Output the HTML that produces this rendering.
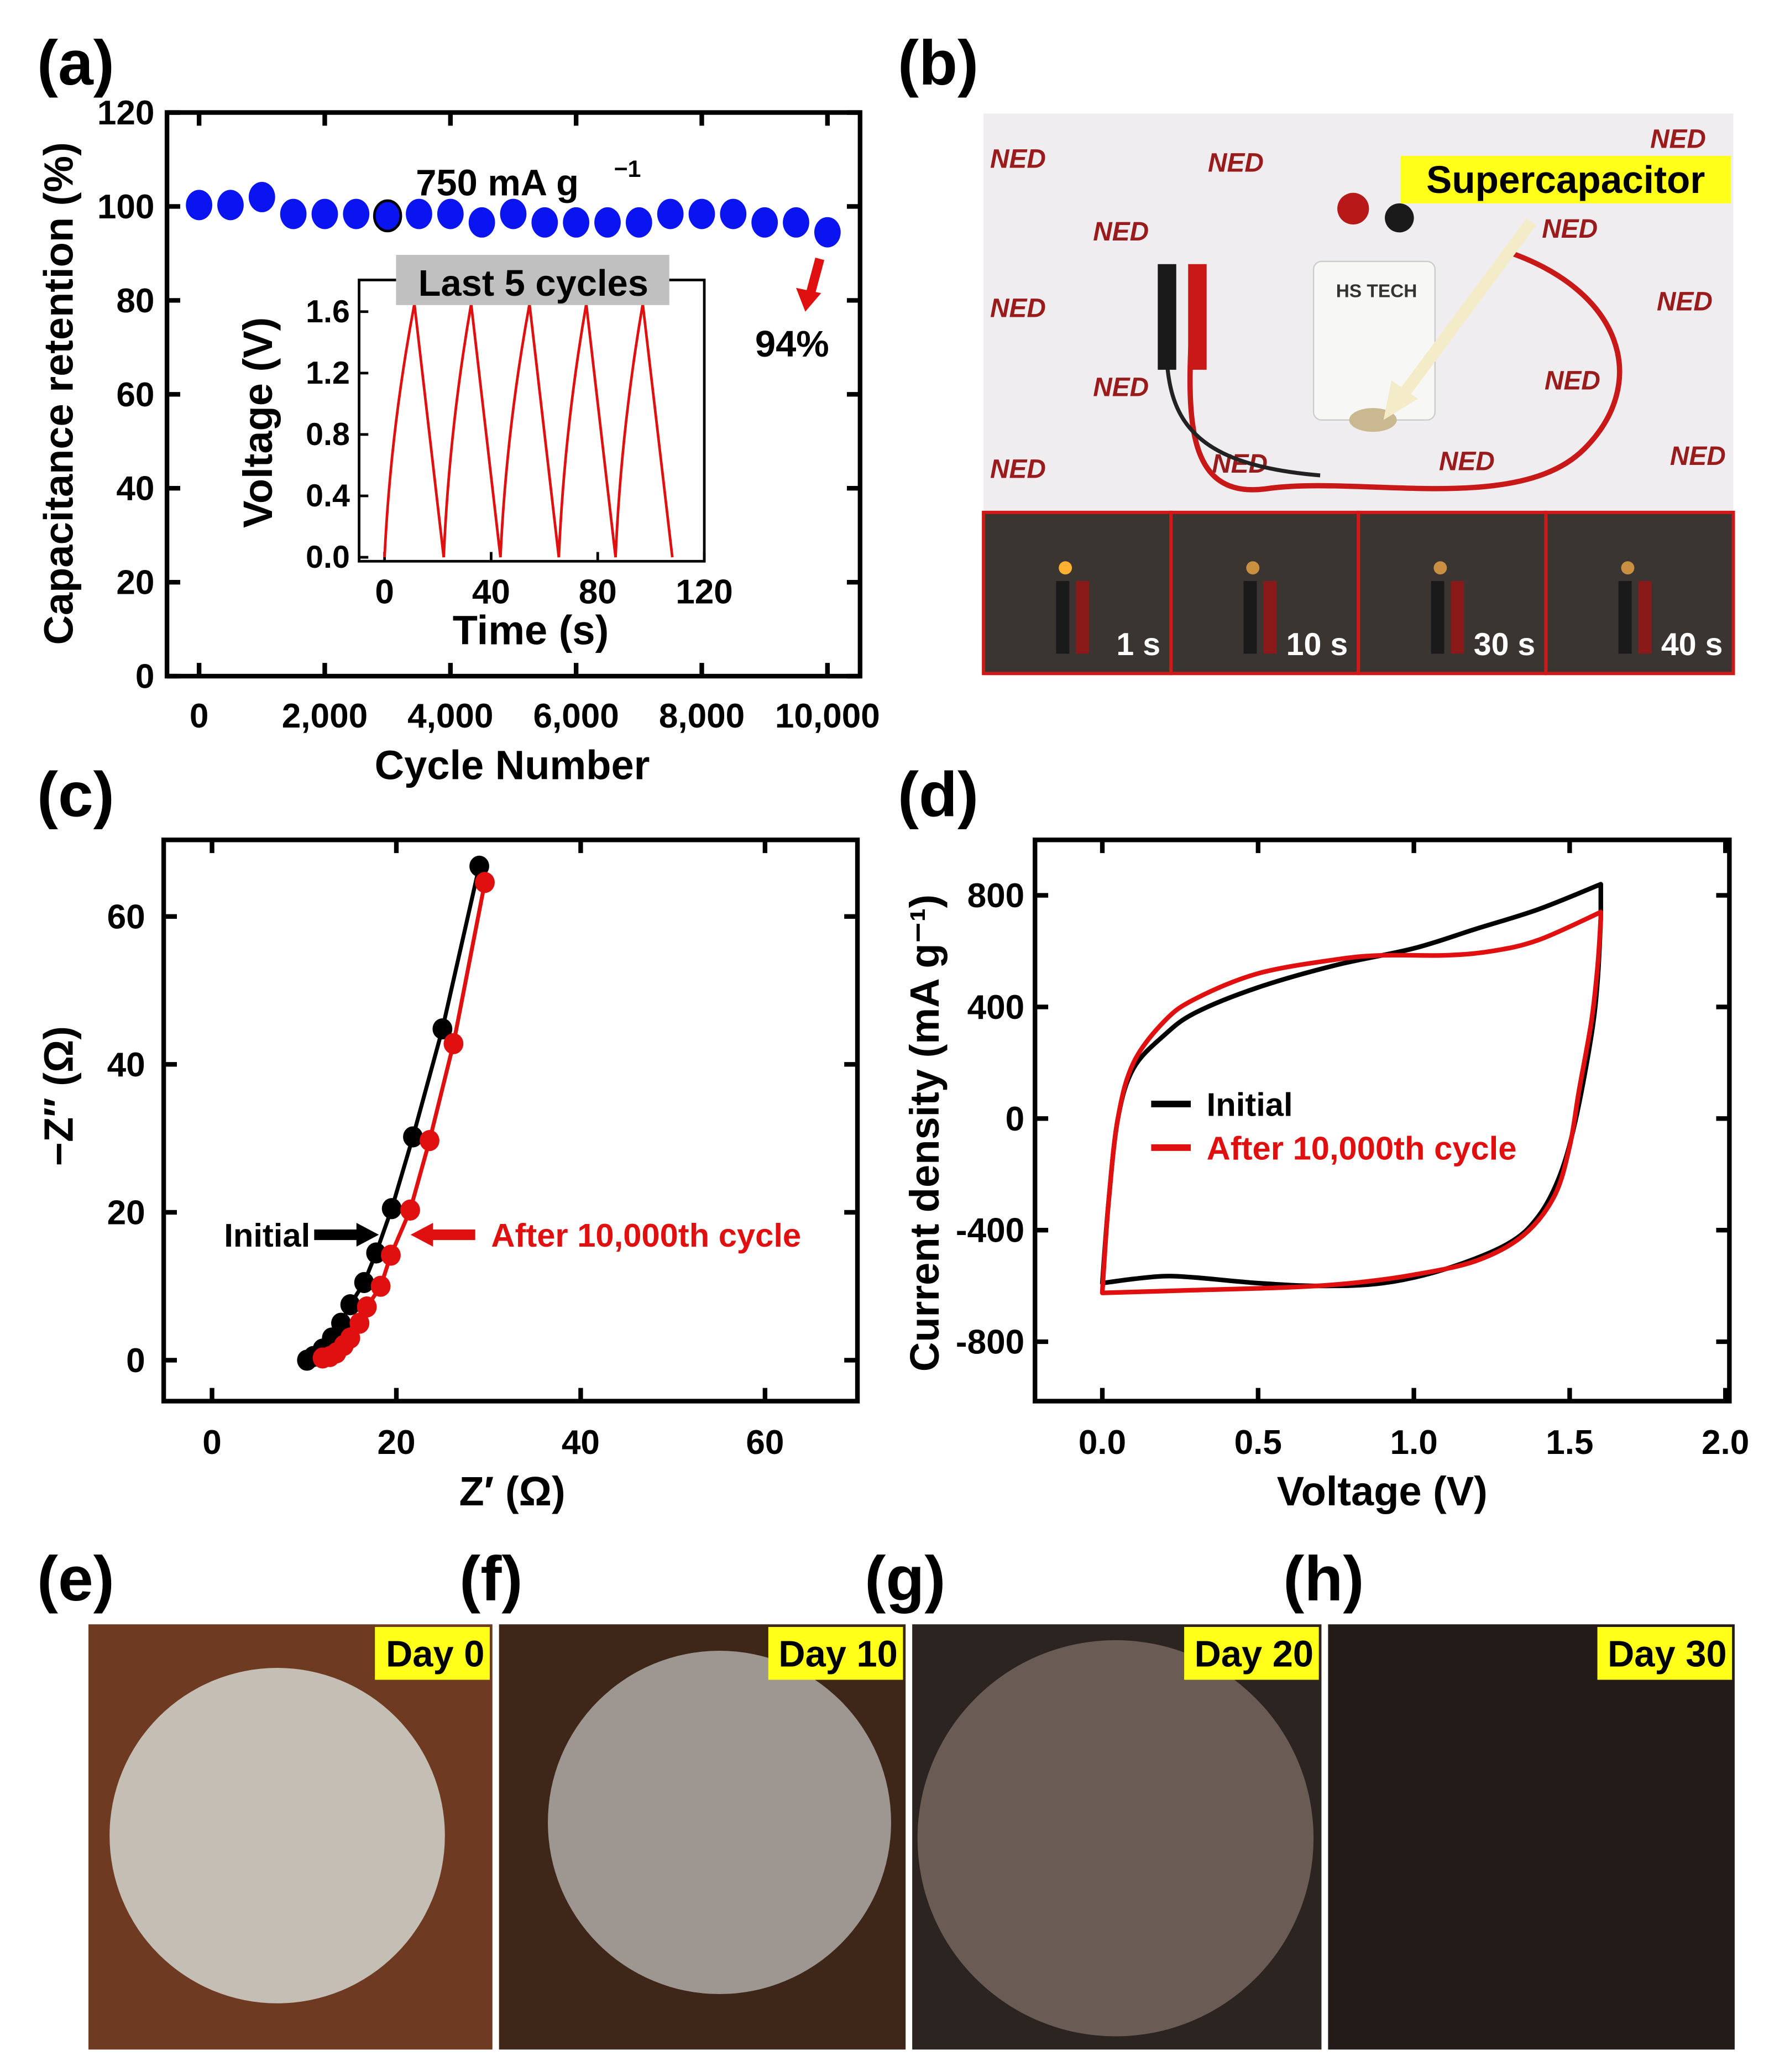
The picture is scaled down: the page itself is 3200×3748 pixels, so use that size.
<!DOCTYPE html>
<html><head><meta charset="utf-8"><style>
html,body{margin:0;padding:0;background:#fff}
svg{display:block}
text{font-family:"Liberation Sans",sans-serif;font-weight:bold}
</style></head><body>
<svg id="fig" width="3200" height="3748" viewBox="0 0 1340 1569" preserveAspectRatio="none" xmlns="http://www.w3.org/2000/svg">
<g id="gA"></g>
<g id="gB">
  <rect x="745" y="86" width="568" height="302" fill="#efedf0"/>
  <text x="750" y="127" font-size="20" fill="#9a1b1b" font-style="italic">NED</text>
  <text x="915" y="130" font-size="20" fill="#9a1b1b" font-style="italic">NED</text>
  <text x="828" y="182" font-size="20" fill="#9a1b1b" font-style="italic">NED</text>
  <text x="750" y="240" font-size="20" fill="#9a1b1b" font-style="italic">NED</text>
  <text x="828" y="300" font-size="20" fill="#9a1b1b" font-style="italic">NED</text>
  <text x="750" y="362" font-size="20" fill="#9a1b1b" font-style="italic">NED</text>
  <text x="918" y="358" font-size="20" fill="#9a1b1b" font-style="italic">NED</text>
  <text x="1090" y="356" font-size="20" fill="#9a1b1b" font-style="italic">NED</text>
  <text x="1168" y="180" font-size="20" fill="#9a1b1b" font-style="italic">NED</text>
  <text x="1255" y="235" font-size="20" fill="#9a1b1b" font-style="italic">NED</text>
  <text x="1170" y="295" font-size="20" fill="#9a1b1b" font-style="italic">NED</text>
  <text x="1265" y="352" font-size="20" fill="#9a1b1b" font-style="italic">NED</text>
  <text x="1250" y="112" font-size="20" fill="#9a1b1b" font-style="italic">NED</text>
  <path d="M905 210 C 900 300, 890 380, 960 370 S 1150 390, 1200 340 S 1230 220, 1140 190" fill="none" stroke="#c81818" stroke-width="4"/>
  <path d="M885 220 C 880 300, 880 350, 1000 360" fill="none" stroke="#222" stroke-width="3"/>
  <rect x="877" y="200" width="14" height="80" fill="#1a1a1a"/>
  <rect x="900" y="200" width="14" height="80" fill="#c81818"/>
  <rect x="995" y="198" width="92" height="120" rx="6" fill="#f7f7f5" stroke="#ccc"/>
  <text x="1012" y="225" font-size="14" fill="#333">HS TECH</text>
  <ellipse cx="1040" cy="318" rx="18" ry="9" fill="#c9b890"/>
  <circle cx="1025" cy="158" r="12" fill="#b81818"/>
  <circle cx="1060" cy="165" r="11" fill="#1a1a1a"/>
  <path d="M1160 168 L1062 300" stroke="#f4ecc8" stroke-width="9"/>
  <polygon points="1048,318 1054,288 1074,302" fill="#f4ecc8"/>
  <rect x="1061" y="118" width="250" height="36" fill="#ffff1a"/>
  <text x="1186" y="146" font-size="29" text-anchor="middle" fill="#000">Supercapacitor</text>
</g>
<g id="gC"></g>
<g id="gD"></g>
<g id="gE"></g>
</svg>
<script>
const NS="http://www.w3.org/2000/svg";
function mk(p,tag,a,txt){const e=document.createElementNS(NS,tag);for(const k in a)e.setAttribute(k,a[k]);if(txt!==undefined)e.textContent=txt;p.appendChild(e);return e;}
const gA=document.getElementById('gA'),gB=document.getElementById('gB'),gC=document.getElementById('gC'),gD=document.getElementById('gD'),gE=document.getElementById('gE');

// ---------- Panel (a) data ----------
const aCycles=[0,500,1000,1500,2000,2500,3000,3500,4000,4500,5000,5500,6000,6500,7000,7500,8000,8500,9000,9500,10000];
const aRetention=[100.3,100.3,102,98.4,98.4,98.4,98,98.4,98.4,96.6,98.4,96.6,96.6,96.6,96.6,98.4,98.4,98.4,96.6,96.6,94.5];
const aXTicks=[0,2000,4000,6000,8000,10000];
const aXTickLabels=["0","2,000","4,000","6,000","8,000","10,000"];
const aYTicks=[0,20,40,60,80,100,120];
const insetT=[0,11.2,22.2,32.5,43.5,54.4,65.4,75.7,86.7,96.9,108];
const insetV=[0,1.65,0,1.65,0,1.65,0,1.65,0,1.65,0];
const insetXTicks=[0,40,80,120];
const insetYTicks=[0,0.4,0.8,1.2,1.6];
// ---------- Panel (c) data ----------
const cInitX=[10.3,11,12,13,14,15,16.5,17.8,19.5,21.8,25,29];
const cInitY=[0,0.5,1.5,3,5,7.5,10.5,14.5,20.5,30.2,44.8,66.8];
const cAftX=[12,12.8,13.5,14.3,15,16,16.8,18.3,19.4,21.5,23.6,26.2,29.6];
const cAftY=[0.3,0.5,1,2,3,5,7.2,10,14.2,20.3,29.7,42.8,64.6];
const cXTicks=[0,20,40,60];
const cYTicks=[0,20,40,60];
// ---------- Panel (d) data ----------
const dInitFwdV=[0,0.02,0.05,0.1,0.2,0.3,0.5,0.75,1.0,1.2,1.4,1.6];
const dInitFwdI=[-590,-300,0,180,300,380,470,550,610,680,750,840];
const dInitRevV=[1.6,1.59,1.57,1.52,1.47,1.4,1.3,1.1,0.9,0.7,0.5,0.3,0.2,0.1,0];
const dInitRevI=[720,500,300,0,-200,-350,-450,-540,-590,-600,-590,-570,-565,-575,-590];
const dAftFwdV=[0,0.02,0.05,0.1,0.2,0.3,0.5,0.75,0.9,1.1,1.25,1.4,1.6];
const dAftFwdI=[-620,-300,0,200,350,430,520,570,585,585,600,640,740];
const dAftRevV=[1.6,1.59,1.57,1.53,1.5,1.45,1.35,1.2,1.0,0.8,0.6,0.3,0];
const dAftRevI=[720,550,350,100,-100,-280,-420,-510,-560,-590,-605,-615,-625];
const dXTicks=[0,0.5,1.0,1.5,2.0];
const dXTickLabels=["0.0","0.5","1.0","1.5","2.0"];
const dYTicks=[-800,-400,0,400,800];

function lin(d0,d1,p0,p1){return v=>p0+(v-d0)/(d1-d0)*(p1-p0);}
function smooth(pts){let d=`M${pts[0][0]} ${pts[0][1]}`;for(let i=0;i<pts.length-1;i++){const p0=pts[i-1]||pts[i],p1=pts[i],p2=pts[i+1],p3=pts[i+2]||p2;const c1=[p1[0]+(p2[0]-p0[0])/6,p1[1]+(p2[1]-p0[1])/6],c2=[p2[0]-(p3[0]-p1[0])/6,p2[1]-(p3[1]-p1[1])/6];d+=`C${c1[0]} ${c1[1]} ${c2[0]} ${c2[1]} ${p2[0]} ${p2[1]}`;}return d;}
function frame(g,x0,y0,x1,y1,sw,name){const r=mk(g,'rect',{x:x0,y:y0,width:x1-x0,height:y1-y0,fill:'none',stroke:'#000','stroke-width':sw});}
function label(g,x,y,s){const t=mk(g,'text',{x:x,y:y,'font-size':48,fill:'#000'},s);}
const TF=26;

// ===== Panel (a) =====
(function(){
 const L=126.5,R=651.5,T=85.2,B=512;
 const X=lin(0,10000,150.8,626.8),Y=lin(0,120,B,T);
 label(gA,28,64,'(a)');
 frame(gA,L,T,R,B,3.5,'plot-frame');
 aXTicks.forEach((v,i)=>{
  const tk=mk(gA,'path',{d:`M${X(v)} ${B}v-10M${X(v)} ${T}v10`,stroke:'#000','stroke-width':3.5});
  
  const t=mk(gA,'text',{x:X(v),y:551,'font-size':TF,'text-anchor':'middle'},aXTickLabels[i]);
  
 });
 aYTicks.forEach(v=>{
  const tk=mk(gA,'path',{d:`M${L} ${Y(v)}h10M${R} ${Y(v)}h-10`,stroke:'#000','stroke-width':3.5});
  
  const t=mk(gA,'text',{x:117,y:Y(v)+9,'font-size':TF,'text-anchor':'end'},String(v));
  
 });
 const xt=mk(gA,'text',{x:388,y:590,'font-size':31,'text-anchor':'middle'},'Cycle Number');
 
 const yt=mk(gA,'text',{x:0,y:0,'font-size':31,'text-anchor':'middle',transform:'translate(55,298) rotate(-90)'},'Capacitance retention (%)');
 
 aCycles.forEach((c,i)=>{
  const e=mk(gA,'ellipse',{cx:X(c),cy:Y(aRetention[i]),rx:10,ry:11.5,fill:'#0a14f0',stroke:c===3000?'#000':'none','stroke-width':2});
  
 });
 const ct=mk(gA,'text',{x:315,y:148,'font-size':28},'750 mA g');
 
 const sp=mk(gA,'text',{x:465,y:134,'font-size':18},'−1');
 
 const ar=mk(gA,'path',{d:'M621 196 L614 222',stroke:'#e01010','stroke-width':7});
 
 const ah=mk(gA,'polygon',{points:'603,218 622,222 610,236',fill:'#e01010'});
 
 const pt=mk(gA,'text',{x:600,y:270,'font-size':28,'text-anchor':'middle'},'94%');
 
 // inset
 const iL=272,iR=533.5,iT=212,iB=425;
 const IX=lin(0,120,291.3,533.5),IY=lin(0,1.6,422,236);
 frame(gA,iL,iT,iR,iB,2,'inset-frame');
 insetXTicks.forEach(v=>{
  const tk=mk(gA,'path',{d:`M${IX(v)} ${iB}v-7`,stroke:'#000','stroke-width':2});
  
  const t=mk(gA,'text',{x:IX(v),y:457,'font-size':TF,'text-anchor':'middle'},String(v));
  
 });
 insetYTicks.forEach(v=>{
  const tk=mk(gA,'path',{d:`M${iL} ${IY(v)}h7`,stroke:'#000','stroke-width':2});
  
  const t=mk(gA,'text',{x:265,y:IY(v)+8,'font-size':24,'text-anchor':'end'},v.toFixed(1));
  
 });
 let d='';
 for(let i=0;i<insetT.length;i++){
  if(i>0&&insetV[i]>insetV[i-1]){
   const x0=IX(insetT[i-1]),y0=IY(insetV[i-1]),x1=IX(insetT[i]),y1=IY(insetV[i]);
   d+=`Q${x0+(x1-x0)*0.2} ${y0+(y1-y0)*0.5} ${x1} ${y1}`;
  } else d+=(i?'L':'M')+IX(insetT[i])+' '+IY(insetV[i]);
 }
 const wl=mk(gA,'path',{d:d,fill:'none',stroke:'#e01010','stroke-width':2});
 
 const gb=mk(gA,'rect',{x:300,y:193,width:207,height:38,fill:'#c0c0c0'});
 
 const it=mk(gA,'text',{x:404,y:224,'font-size':28,'text-anchor':'middle'},'Last 5 cycles');
 
 const ixt=mk(gA,'text',{x:402,y:488,'font-size':31,'text-anchor':'middle'},'Time (s)');
 
 const iyt=mk(gA,'text',{x:0,y:0,'font-size':31,'text-anchor':'middle',transform:'translate(206,320) rotate(-90)'},'Voltage (V)');
 
})();

// ===== Panel (b) labels and strip =====
(function(){
 label(gB,680,64,'(b)');
 const times=['1 s','10 s','30 s','40 s'];
 const xs=[745,887,1029,1171];
 times.forEach((s,i)=>{
  const r=mk(gB,'rect',{x:xs[i],y:388,width:142,height:122,fill:'#3b3531',stroke:'#d01818','stroke-width':2.5});
  
  const l=mk(gB,'rect',{x:xs[i]+55,y:440,width:10,height:55,fill:'#1a1a1a'});
  
  const l2=mk(gB,'rect',{x:xs[i]+70,y:440,width:10,height:55,fill:'#8a1a1a'});
  
  const c=mk(gB,'circle',{cx:xs[i]+62,cy:430,r:5,fill:i===0?'#ffb030':'#c89040'});
  
  const t=mk(gB,'text',{x:xs[i]+134,y:496,'font-size':24,'text-anchor':'end',fill:'#fff'},s);
  
 });
})();

// ===== Panel (c) =====
(function(){
 const L=124,R=649.5,T=636,B=1061;
 const X=lin(0,60,160.6,579.5),Y=lin(0,60,1030,694);
 label(gC,28,618,'(c)');
 frame(gC,L,T,R,B,3.5,'plot-frame');
 cXTicks.forEach(v=>{
  const tk=mk(gC,'path',{d:`M${X(v)} ${B}v-10M${X(v)} ${T}v10`,stroke:'#000','stroke-width':3.5});
  
  const t=mk(gC,'text',{x:X(v),y:1101,'font-size':TF,'text-anchor':'middle'},String(v));
  
 });
 cYTicks.forEach(v=>{
  const tk=mk(gC,'path',{d:`M${L} ${Y(v)}h10M${R} ${Y(v)}h-10`,stroke:'#000','stroke-width':3.5});
  
  const t=mk(gC,'text',{x:110,y:Y(v)+9,'font-size':TF,'text-anchor':'end'},String(v));
  
 });
 const xt=mk(gC,'text',{x:388,y:1140,'font-size':31,'text-anchor':'middle'},'Z′ (Ω)');
 
 const yt=mk(gC,'text',{x:0,y:0,'font-size':31,'text-anchor':'middle',transform:'translate(55,830) rotate(-90)'},'−Z″ (Ω)');
 
 [[cInitX,cInitY,'#000','initial'],[cAftX,cAftY,'#e01010','after-cycling']].forEach(s=>{
  const d=s[0].map((x,i)=>(i?'L':'M')+X(x)+' '+Y(s[1][i])).join('');
  const p=mk(gC,'path',{d:d,fill:'none',stroke:s[2],'stroke-width':3});
  
  s[0].forEach((x,i)=>{
   const c=mk(gC,'ellipse',{cx:X(x),cy:Y(s[1][i]),rx:7.5,ry:8,fill:s[2]});
   
  });
 });
 const t1=mk(gC,'text',{x:235,y:944,'font-size':25,'text-anchor':'end'},'Initial');
 
 const a1=mk(gC,'path',{d:'M238 935 H272',stroke:'#000','stroke-width':8});
 
 const h1=mk(gC,'polygon',{points:'270,926 287,935 270,944',fill:'#000'});
 
 const a2=mk(gC,'path',{d:'M326 935 H360',stroke:'#e01010','stroke-width':8});
 
 const h2=mk(gC,'polygon',{points:'328,926 311,935 328,944',fill:'#e01010'});
 
 const t2=mk(gC,'text',{x:372,y:944,'font-size':25,fill:'#e01010'},'After 10,000th cycle');
 
})();

// ===== Panel (d) =====
(function(){
 const L=784,R=1310,T=636,B=1061;
 const X=lin(0,2,835,1307),Y=lin(0,800,847,678);
 label(gD,680,618,'(d)');
 frame(gD,L,T,R,B,3.5,'plot-frame');
 dXTicks.forEach((v,i)=>{
  const tk=mk(gD,'path',{d:`M${X(v)} ${B}v-10M${X(v)} ${T}v10`,stroke:'#000','stroke-width':3.5});
  
  const t=mk(gD,'text',{x:X(v),y:1101,'font-size':TF,'text-anchor':'middle'},dXTickLabels[i]);
  
 });
 dYTicks.forEach(v=>{
  const tk=mk(gD,'path',{d:`M${L} ${Y(v)}h10M${R} ${Y(v)}h-10`,stroke:'#000','stroke-width':3.5});
  
  const t=mk(gD,'text',{x:776,y:Y(v)+9,'font-size':TF,'text-anchor':'end'},String(v));
  
 });
 const xt=mk(gD,'text',{x:1047,y:1140,'font-size':31,'text-anchor':'middle'},'Voltage (V)');
 
 const yt=mk(gD,'text',{x:0,y:0,'font-size':31,'text-anchor':'middle',transform:'translate(711,858) rotate(-90)'},'Current density (mA g⁻¹)');
 
 [[dInitFwdV,dInitFwdI,dInitRevV,dInitRevI,'#000','initial-cv'],[dAftFwdV,dAftFwdI,dAftRevV,dAftRevI,'#e01010','after-cycling-cv']].forEach(s=>{
  const f=s[0].map((v,i)=>[X(v),Y(s[1][i])]);
  const r=s[2].map((v,i)=>[X(v),Y(s[3][i])]);
  const d=smooth(f)+'L'+r[0][0]+' '+r[0][1]+smooth(r).replace(/^M[^C]*/,'')+'Z';
  const p=mk(gD,'path',{d:d,fill:'none',stroke:s[4],'stroke-width':3.5,'stroke-linejoin':'round'});
  
 });
 const l1=mk(gD,'path',{d:'M872 836 H902',stroke:'#000','stroke-width':5});
 
 const t1=mk(gD,'text',{x:914,y:845,'font-size':25},'Initial');
 
 const l2=mk(gD,'path',{d:'M872 869 H902',stroke:'#e01010','stroke-width':5});
 
 const t2=mk(gD,'text',{x:914,y:878,'font-size':25,fill:'#e01010'},'After 10,000th cycle');
 
})();

// ===== Panels (e)-(h) =====
(function(){
 const panels=[
  {l:'(e)',lx:28,x:67,w:306,bg:'#6e3a22',day:'Day 0',cx:210,cy:1390,r:127,fill:'#c9c5bd'},
  {l:'(f)',lx:348,x:378,w:308,bg:'#3e2619',day:'Day 10',cx:545,cy:1380,r:130,fill:'#a39c98'},
  {l:'(g)',lx:655,x:691,w:310,bg:'#2c2420',day:'Day 20',cx:845,cy:1392,r:150,fill:'#6e6058'},
  {l:'(h)',lx:972,x:1006,w:308,bg:'#231b17',day:'Day 30',cx:0,cy:0,r:0,fill:'none'}];
 panels.forEach(p=>{
  label(gE,p.lx,1212,p.l);
  const r=mk(gE,'rect',{x:p.x,y:1230,width:p.w,height:322,fill:p.bg});
  
  if(p.r){const c=mk(gE,'circle',{cx:p.cx,cy:p.cy,r:p.r,fill:p.fill,opacity:0.95});
   }
  const yb=mk(gE,'rect',{x:p.x+p.w-(p.day.length*15+14),y:1232,width:p.day.length*15+12,height:40,fill:'#ffff1a'});
  
  const t=mk(gE,'text',{x:p.x+p.w-6,y:1262,'font-size':28,'text-anchor':'end'},p.day);
  
 });
})();
</script>
</body></html>
